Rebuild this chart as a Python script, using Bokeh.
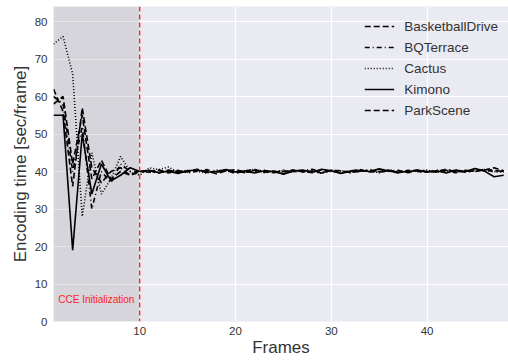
from bokeh.plotting import figure
from bokeh.models import BoxAnnotation, Span, Label, Legend, LegendItem, FixedTicker, Range1d
from bokeh.embed import file_html
from bokeh.resources import INLINE

frames = list(range(1, 49))
basketball = [62, 56, 36, 57, 41, 37, 40, 41, 39, 40,
              40.2, 39.6, 40.4, 39.8, 40.1, 40.6, 39.7, 40.0, 40.3, 39.5,
              40.2, 40.5, 39.8, 40.1, 39.4, 40.3, 40.0, 39.7, 40.4, 40.1,
              39.6, 40.2, 40.5, 39.9, 40.0, 40.3, 39.7, 40.1, 40.4, 39.8,
              40.0, 40.6, 39.9, 40.2, 40.0, 40.4, 41.0, 40.2]
bqterrace = [60, 58, 40, 52, 30, 40, 37, 42, 40, 40,
             39.8, 40.3, 39.9, 40.4, 39.6, 40.1, 40.5, 39.8, 40.2, 40.0,
             39.7, 40.3, 40.1, 39.6, 40.4, 39.9, 40.2, 40.6, 39.8, 40.0,
             40.3, 39.7, 40.1, 40.4, 39.9, 40.2, 39.6, 40.3, 40.0, 39.8,
             40.4, 40.1, 39.7, 40.3, 40.0, 40.5, 39.9, 40.1]
cactus = [74, 76, 66, 28, 45, 34, 38, 44, 40, 39,
          41, 40.5, 41.2, 39.8, 40.3, 40.0, 39.6, 40.4, 40.1, 39.9,
          40.2, 40.6, 39.7, 40.0, 40.3, 39.8, 40.2, 40.1, 39.5, 40.4,
          40.0, 39.8, 40.3, 40.1, 39.7, 40.5, 40.0, 39.9, 40.2, 40.4,
          39.8, 40.1, 40.3, 39.9, 40.6, 40.2, 40.0, 39.8]
kimono = [55, 55, 19, 50, 34, 42, 37.5, 39, 41, 40,
          40.3, 39.7, 40.1, 39.5, 40.2, 40.4, 39.8, 40.0, 40.5, 39.9,
          40.1, 39.6, 40.2, 40.0, 39.3, 40.1, 40.4, 39.8, 40.6, 40.2,
          39.5, 40.1, 40.3, 40.0, 40.7, 40.1, 39.8, 40.0, 40.3, 39.9,
          40.2, 39.6, 40.4, 40.0, 40.8, 40.1, 38.6, 39.0]
parkscene = [58, 60, 42, 55, 38, 43, 38, 40, 39, 40,
             40.0, 40.4, 39.6, 40.2, 39.9, 40.3, 40.1, 39.4, 40.2, 40.5,
             39.8, 40.1, 40.3, 39.7, 40.0, 40.4, 39.9, 40.1, 39.6, 40.3,
             40.2, 39.8, 40.0, 40.4, 39.9, 40.1, 40.3, 39.7, 40.2, 40.0,
             39.9, 40.3, 40.1, 39.8, 40.2, 40.6, 40.3, 40.0]

series_names = ["BasketballDrive", "BQTerrace", "Cactus", "Kimono", "ParkScene"]
series_vals = [basketball, bqterrace, cactus, kimono, parkscene]
dashes = ["6 3", "5 3 1 3", "1 2", "solid", "6 3"]

x_ticks = [10, 20, 30, 40]
y_ticks = [0, 10, 20, 30, 40, 50, 60, 70, 80]

FONT = "Liberation Sans"
TXT = "#333333"

p = figure(width=508, height=362, output_backend="svg", toolbar_location=None,
           x_range=Range1d(1, 48.5), y_range=Range1d(0, 84),
           min_border_left=53, min_border_right=0, min_border_top=6, min_border_bottom=41)
p.background_fill_color = "#EAEAF2"
p.border_fill_color = "white"
p.outline_line_color = None

for ax in (p.xaxis[0], p.yaxis[0]):
    ax.axis_line_color = None
    ax.major_tick_line_color = None
    ax.minor_tick_line_color = None
    ax.major_tick_out = 0
    ax.major_tick_in = 0
    ax.major_label_standoff = 6
    ax.major_label_text_font = FONT
    ax.major_label_text_font_size = "11.5px"
    ax.major_label_text_color = TXT
    ax.axis_label_text_font = FONT
    ax.axis_label_text_font_size = "17px"
    ax.axis_label_text_font_style = "normal"
    ax.axis_label_text_color = TXT
    ax.axis_label_standoff = 2

p.xaxis.major_label_standoff = 5
p.xaxis.axis_label_standoff = 0
p.xaxis.ticker = FixedTicker(ticks=x_ticks)
p.yaxis.ticker = FixedTicker(ticks=y_ticks)
p.xaxis.axis_label = "Frames"
p.yaxis.axis_label = "Encoding time [sec/frame]"

p.xgrid.grid_line_color = "white"
p.ygrid.grid_line_color = "white"
p.xgrid.grid_line_width = 1.2
p.ygrid.grid_line_width = 1.2

box = BoxAnnotation(left=1, right=10, fill_color="gray", fill_alpha=0.2,
                    line_color=None, level="underlay")
p.add_layout(box)

items = []
for name, vals, dash in zip(series_names, series_vals, dashes):
    r = p.line(frames, vals, line_color="black", line_width=1.6, line_dash=dash)
    items.append(LegendItem(label=name, renderers=[r]))

p.add_layout(Span(location=10, dimension="height", line_color="#ff1a1a",
                  line_dash="5 3", line_width=1.3))
p.add_layout(Label(x=1.5, y=5.8, text="CCE Initialization", text_color="#ff2020",
                   text_font=FONT, text_font_size="10px", text_baseline="middle"))

legend = Legend(items=items, location="top_right")
legend.background_fill_alpha = 0
legend.border_line_color = None
legend.label_text_font = FONT
legend.label_text_font_size = "13.5px"
legend.label_text_color = TXT
legend.glyph_width = 30
legend.spacing = 1
legend.margin = 10
legend.padding = 6
legend.label_standoff = 10
p.add_layout(legend)

open("out.html", "w").write(file_html(p, INLINE))
